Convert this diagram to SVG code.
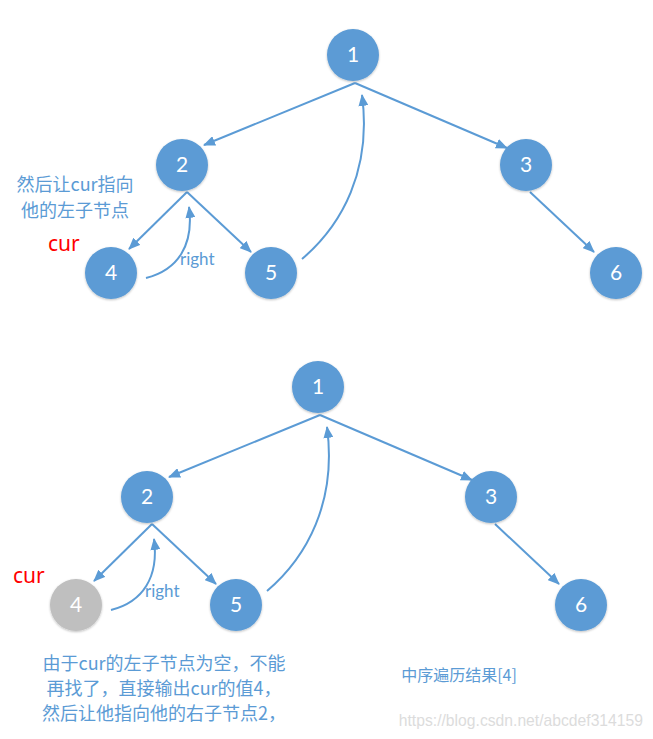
<svg xmlns="http://www.w3.org/2000/svg" width="653" height="739" viewBox="0 0 653 739">
<defs>
<marker id="ah" markerUnits="userSpaceOnUse" markerWidth="12" markerHeight="10" refX="11" refY="5" orient="auto">
<path d="M0,0 L12,5 L0,10 Z" fill="#5b9bd5"/>
</marker>
<filter id="sh" x="-20%" y="-20%" width="140%" height="140%">
<feDropShadow dx="0" dy="1" stdDeviation="1" flood-color="#000" flood-opacity="0.25"/>
</filter>
</defs>
<style>
.n circle{fill:#5b9bd5;filter:url(#sh)}
.n.g circle{fill:#bfbfbf}
.n text{fill:#fff;font-family:Lato,"Open Sans","Liberation Sans",sans-serif;font-size:21px;text-anchor:middle}
.e{stroke:#5b9bd5;stroke-width:2;fill:none;marker-end:url(#ah)}
.lbl{fill:#5b9bd5;font-family:"Noto Sans CJK SC","Noto Sans",sans-serif;font-size:18px}
.cur{fill:#ff0000;font-family:"Noto Sans","Liberation Sans",sans-serif;font-size:21px}
.rt{fill:#5b9bd5;font-family:Lato,"Noto Sans",sans-serif;font-size:17px}
</style>
<rect width="653" height="739" fill="#fff"/>
<g id="connectors">
<line class="e" x1="355" y1="83" x2="204" y2="145"/>
<line class="e" x1="355" y1="83" x2="507" y2="148"/>
<line class="e" x1="530" y1="192" x2="594" y2="252"/>
<line class="e" x1="187" y1="192" x2="129" y2="249"/>
<line class="e" x1="187" y1="192" x2="251" y2="252"/>
<path class="e" d="M146,278 C178,270 194,245 189,207"/>
<path class="e" d="M302,259 C342,225 372,170 362,95"/>
<line class="e" x1="320" y1="415" x2="169" y2="477"/>
<line class="e" x1="320" y1="415" x2="472" y2="480"/>
<line class="e" x1="495" y1="524" x2="559" y2="584"/>
<line class="e" x1="152" y1="524" x2="94" y2="581"/>
<line class="e" x1="152" y1="524" x2="216" y2="584"/>
<path class="e" d="M111,610 C143,602 159,577 154,539"/>
<path class="e" d="M267,591 C307,557 337,502 327,427"/>
</g>
<g id="n1" class="n"><circle cx="353" cy="55" r="26"/><text x="353" y="62">1</text></g>
<g id="n2" class="n"><circle cx="182" cy="165" r="26"/><text x="182" y="172">2</text></g>
<g id="n3" class="n"><circle cx="526" cy="165" r="26"/><text x="526" y="172">3</text></g>
<g id="n4" class="n"><circle cx="111" cy="273" r="26"/><text x="111" y="280">4</text></g>
<g id="n5" class="n"><circle cx="271" cy="273" r="26"/><text x="271" y="280">5</text></g>
<g id="n6" class="n"><circle cx="616" cy="273" r="26"/><text x="616" y="280">6</text></g>
<g id="b1" class="n"><circle cx="318" cy="387" r="26"/><text x="318" y="394">1</text></g>
<g id="b2" class="n"><circle cx="147" cy="497" r="26"/><text x="147" y="504">2</text></g>
<g id="b3" class="n"><circle cx="491" cy="497" r="26"/><text x="491" y="504">3</text></g>
<g id="b4" class="n g"><circle cx="76" cy="605" r="26"/><text x="76" y="612">4</text></g>
<g id="b5" class="n"><circle cx="236" cy="605" r="26"/><text x="236" y="612">5</text></g>
<g id="b6" class="n"><circle cx="581" cy="605" r="26"/><text x="581" y="612">6</text></g>
<g id="labels">
<text class="lbl" x="75" y="191" text-anchor="middle">然后让cur指向</text>
<text class="lbl" x="75" y="217" text-anchor="middle">他的左子节点</text>
<text class="cur" x="48" y="251">cur</text>
<text class="rt" x="180" y="265">right</text>
<text class="cur" x="13" y="583">cur</text>
<text class="rt" x="145" y="597">right</text>
<text class="lbl" x="164" y="670" text-anchor="middle">由于cur的左子节点为空，不能</text>
<text class="lbl" x="164" y="695" text-anchor="middle">再找了，直接输出cur的值4，</text>
<text class="lbl" x="164" y="720" text-anchor="middle">然后让他指向他的右子节点2，</text>
<text class="lbl" x="459" y="681" text-anchor="middle" style="font-size:16px">中序遍历结果[4]</text>
<text x="643" y="726" text-anchor="end" fill="#dcdcdc" font-family="'Liberation Sans',Arial,sans-serif" font-size="15.7">https://blog.csdn.net/abcdef314159</text>
</g>
</svg>
